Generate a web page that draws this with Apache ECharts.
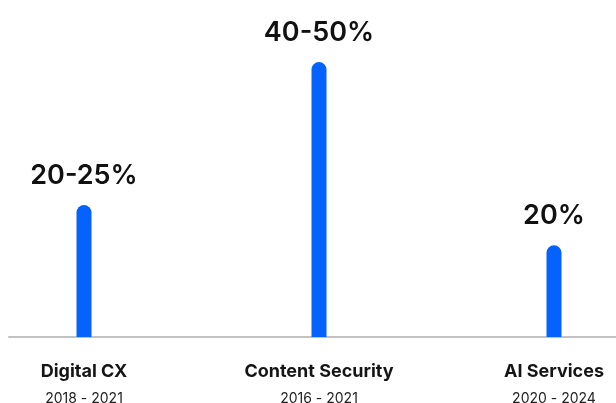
<!DOCTYPE html>
<html>
<head>
<meta charset="utf-8">
<script src="https://cdn.jsdelivr.net/npm/echarts@6/dist/echarts.min.js"></script>
<style>
html,body{margin:0;padding:0;background:#fff;}
#chart{width:616px;height:403px;}
</style>
</head>
<body>
<div id="chart"></div>
<script>
var categories = ['Digital CX', 'Content Security', 'AI Services'];
var periods = ['2018 - 2021', '2016 - 2021', '2020 - 2024'];
var values = [21.6, 45, 15];
var valueLabels = ['20-25%', '40-50%', '20%'];

var chart = echarts.init(document.getElementById('chart'));
var FONT = 'Inter, "Noto Sans", sans-serif';
chart.setOption({
  animation: false,
  textStyle: { fontFamily: FONT },
  grid: [
    { left: 84, right: 62, top: 1, bottom: 66, outerBoundsMode: 'none', containLabel: false },
    { left: 9, right: 0, top: 1, bottom: 66, outerBoundsMode: 'none', containLabel: false }
  ],
  xAxis: [
    {
      gridIndex: 0,
      type: 'category',
      boundaryGap: false,
      data: categories,
      axisLine: { show: false },
      axisTick: { show: false },
      axisLabel: {
        margin: 21.5,
        interval: 0,
        formatter: function (v, i) {
          return '{a|' + v + '}\n{b|' + periods[i] + '}';
        },
        rich: {
          a: { fontFamily: FONT, fontSize: 18, fontWeight: 700, color: '#151515', lineHeight: 26 },
          b: { fontFamily: FONT, fontSize: 14, fontWeight: 400, color: '#222', lineHeight: 29 }
        }
      }
    },
    {
      gridIndex: 1,
      type: 'category',
      data: [''],
      axisLine: { show: true, lineStyle: { color: '#c2c2c2', width: 2 } },
      axisTick: { show: false },
      axisLabel: { show: false }
    }
  ],
  yAxis: [
    { gridIndex: 0, type: 'value', min: 0, max: 55, show: false },
    { gridIndex: 1, type: 'value', min: 0, max: 55, show: false }
  ],
  series: [{
    type: 'bar',
    xAxisIndex: 0,
    yAxisIndex: 0,
    data: values,
    barWidth: 15,
    itemStyle: { color: '#0562fd', borderRadius: [7.5, 7.5, 0, 0] },
    label: {
      show: true,
      position: 'top',
      distance: 16,
      fontFamily: FONT,
      fontSize: 27,
      fontWeight: 600,
      color: '#111',
      formatter: function (p) { return valueLabels[p.dataIndex]; }
    }
  }]
});
</script>
</body>
</html>
